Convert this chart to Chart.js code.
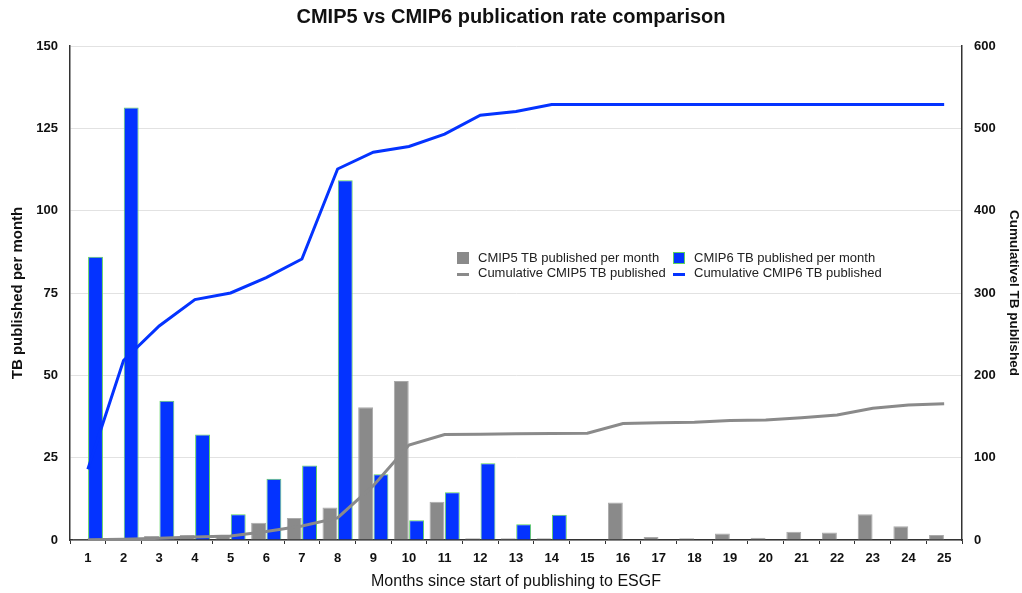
<!DOCTYPE html>
<html>
<head>
<meta charset="utf-8">
<script src="https://cdn.jsdelivr.net/npm/chart.js@4"></script>
<style>
  body { margin: 0; background: #fff; }
  #wrap { position: relative; width: 1022px; height: 593px; }
  .legend { position: absolute; left: 457px; top: 249px; font: 13px "Liberation Sans", Arial, sans-serif; color: #222; }
  .legend .item { position: absolute; white-space: nowrap; }
  .legend .sw { position: absolute; left: 0; }
  .legend .txt { position: absolute; left: 21px; top: -1px; }
</style>
</head>
<body>
<div id="wrap">
  <canvas id="c" width="1022" height="593"></canvas>
  <div class="legend">
    <div class="item" style="left:0;top:2px"><span class="sw" style="top:1px;width:12px;height:12px;background:#8a8a8a"></span><span class="txt">CMIP5 TB published per month</span></div>
    <div class="item" style="left:216px;top:2px"><span class="sw" style="top:1px;width:10px;height:10px;background:#0433ff;border:1px solid #5fd35f"></span><span class="txt">CMIP6 TB published per month</span></div>
    <div class="item" style="left:0;top:17px"><span class="sw" style="top:7px;width:12px;height:3px;background:#8a8a8a"></span><span class="txt">Cumulative CMIP5 TB published</span></div>
    <div class="item" style="left:216px;top:17px"><span class="sw" style="top:7px;width:12px;height:3px;background:#0433ff"></span><span class="txt">Cumulative CMIP6 TB published</span></div>
  </div>
</div>
<script>
const months = ['1','2','3','4','5','6','7','8','9','10','11','12','13','14','15','16','17','18','19','20','21','22','23','24','25'];

// TB published per month
const cmip5Monthly = [0.3, 0.5, 1.2, 1.5, 1.5, 5.2, 6.7, 9.9, 40.3, 48.3, 11.6, 0.5, 0.5, 0.5, 0, 11.4, 0.9, 0.5, 2.0, 0.7, 2.5, 2.3, 7.8, 4.2, 1.5];
const cmip6Monthly = [86, 131.3, 42.3, 32, 7.8, 18.6, 22.6, 109.2, 20, 6, 14.5, 23.3, 4.8, 7.7, 0, 0, 0, 0, 0, 0, 0, 0, 0, 0, 0];

// cumulative TB (right axis)
const cmip5Cumulative = [0.3, 0.8, 2, 3.5, 5, 10.2, 16.9, 26.8, 66, 115.4, 128, 128.5, 129, 129.4, 129.6, 141.5, 142.4, 143, 145, 145.8, 148.5, 151.8, 160, 164, 165.5];
const cmip6Cumulative = [86, 218, 260, 292, 300, 318.6, 341.3, 450.6, 471, 478, 493, 516, 520.5, 529, 529, 529, 529, 529, 529, 529, 529, 529, 529, 529, 529];

const leftTicks = [0, 25, 50, 75, 100, 125, 150];

const FONT = '"Liberation Sans", Arial, sans-serif';
const TXT = '#111';

new Chart(document.getElementById('c'), {
  type: 'bar',
  data: {
    labels: months,
    datasets: [
      { type: 'line', label: 'Cumulative CMIP6 TB published', data: cmip6Cumulative, yAxisID: 'y2',
        borderColor: '#0433ff', borderWidth: 3, pointRadius: 0, tension: 0, order: 0 },
      { type: 'line', label: 'Cumulative CMIP5 TB published', data: cmip5Cumulative, yAxisID: 'y2',
        borderColor: '#8a8a8a', borderWidth: 3, pointRadius: 0, tension: 0, order: 1 },
      { label: 'CMIP5 TB published per month', data: cmip5Monthly, yAxisID: 'y',
        backgroundColor: '#8a8a8a', borderColor: '#aaaaaa', borderWidth: 1, order: 2,
        categoryPercentage: 0.86, barPercentage: 0.97 },
      { label: 'CMIP6 TB published per month', data: cmip6Monthly, yAxisID: 'y',
        backgroundColor: '#0433ff', borderColor: '#5fd35f', borderWidth: 1, order: 3,
        categoryPercentage: 0.86, barPercentage: 0.97 }
    ]
  },
  options: {
    responsive: false,
    animation: false,
    plugins: {
      legend: { display: false },
      tooltip: { enabled: false },
      title: {
        display: true,
        text: 'CMIP5 vs CMIP6 publication rate comparison',
        color: TXT,
        font: { family: FONT, size: 20, weight: 'bold' },
        padding: { top: 5, bottom: 17 }
      }
    },
    scales: {
      x: {
        grid: { display: true, drawOnChartArea: false, tickLength: 4, color: '#333', offset: true },
        border: { color: '#333', width: 1.5 },
        ticks: { color: TXT, font: { family: FONT, size: 13, weight: 'bold' }, padding: 7, maxRotation: 0, autoSkip: false },
        title: { display: true, text: 'Months since start of publishing to ESGF', color: TXT,
          font: { family: FONT, size: 16 }, padding: { top: 2, bottom: 2 } },
        afterFit: s => { s.height = 53; }
      },
      y: {
        position: 'left',
        min: 0, max: 150,
        afterBuildTicks: s => { s.ticks = leftTicks.map(v => ({ value: v })); },
        grid: { color: '#e2e2e2', drawTicks: false },
        border: { color: '#333', width: 1.5 },
        ticks: { color: TXT, font: { family: FONT, size: 13, weight: 'bold' }, padding: 12 },
        title: { display: true, text: 'TB published per month', color: TXT,
          font: { family: FONT, size: 15, weight: 'bold' }, padding: { top: 9, bottom: 0 } },
        afterFit: s => { s.width = 70; }
      },
      y2: {
        position: 'right',
        min: 0, max: 600,
        afterBuildTicks: s => { s.ticks = leftTicks.map(v => ({ value: v * 4 })); },
        grid: { drawOnChartArea: false, drawTicks: false },
        border: { color: '#333', width: 1.5 },
        ticks: { color: TXT, font: { family: FONT, size: 13, weight: 'bold' }, padding: 12 },
        title: { display: true, text: 'Cumulativel TB published', color: TXT,
          font: { family: FONT, size: 13.5, weight: 'bold' }, padding: { top: 0, bottom: 0 } },
        afterFit: s => { s.width = 60; }
      }
    }
  }
});
</script>
</body>
</html>
